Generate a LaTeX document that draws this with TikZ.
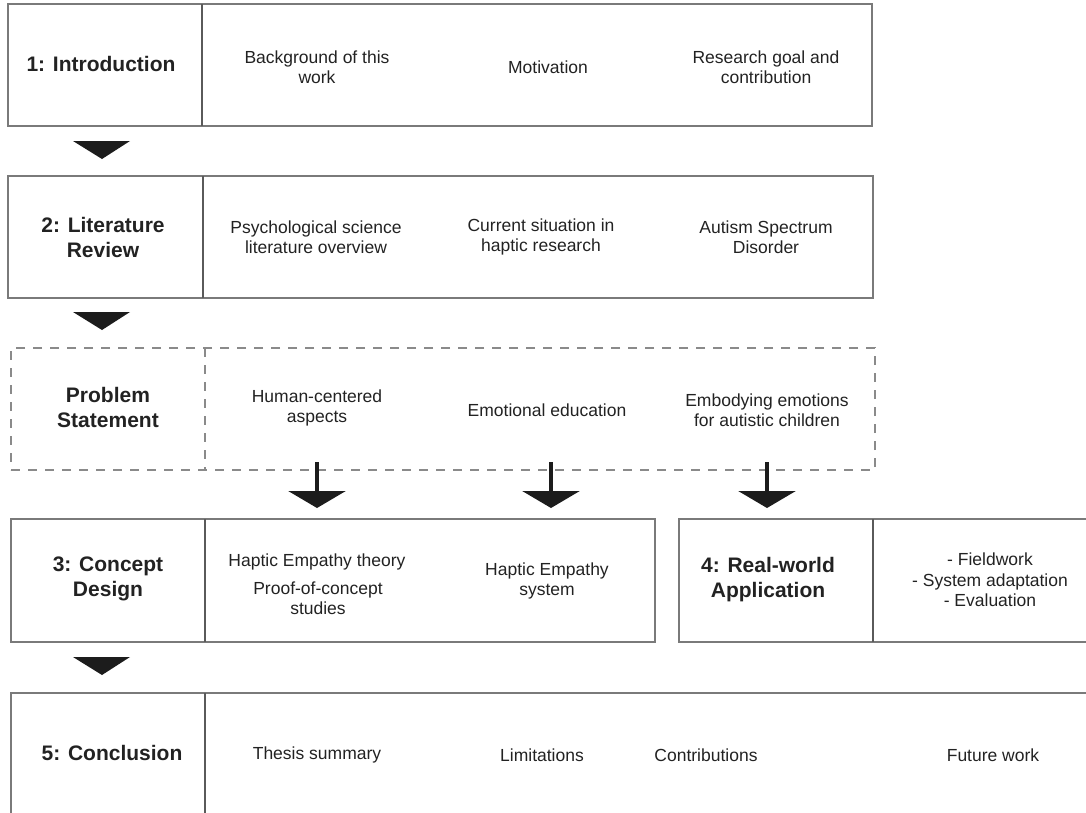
\documentclass[tikz,border=0pt]{standalone}
\usepackage{fontspec}
\setmainfont{Liberation Sans}
\usetikzlibrary{arrows.meta,calc}

\definecolor{framegray}{HTML}{7A7A7A}
\definecolor{divgray}{HTML}{5A5A5A}
\definecolor{dashgray}{HTML}{8A8A8A}
\definecolor{ink}{HTML}{222222}
\definecolor{chevron}{HTML}{1C1C1C}

\tikzset{
  frame/.style={draw=framegray, line width=1.3pt, inner sep=0pt, outer sep=0pt, anchor=north west},
  dashframe/.style={frame, draw=dashgray, dash pattern=on 9pt off 8pt},
  divider/.style={draw=divgray, line width=1.2pt},
  dashdivider/.style={draw=dashgray, line width=1.2pt, dash pattern=on 9pt off 8pt},
  title/.style={text=ink, align=center, font=\fontsize{21}{25}\selectfont\bfseries},
  item/.style={text=ink, align=center, font=\fontsize{17.5}{20.5}\selectfont},
  chev/.style={fill=chevron},
  flow/.style={draw=chevron, line width=3.5pt, -{Triangle[width=57pt,length=17pt]}},
}

\begin{document}
\begin{tikzpicture}[x=1pt,y=-1pt]
\useasboundingbox (0,0) rectangle (1086,812);
\clip (0,0) rectangle (1086,812);

% chapter frames
\node[frame, minimum width=864pt, minimum height=122pt] (b1) at (8,4) {};
\node[frame, minimum width=865pt, minimum height=122pt] (b2) at (8,176) {};
\node[dashframe, minimum width=864pt, minimum height=122pt] (ps) at (11,348) {};
\node[frame, minimum width=644pt, minimum height=123pt] (b3) at (11,519) {};
\node[frame, minimum width=420pt, minimum height=123pt] (b4) at (679,519) {};
\node[frame, minimum width=1090pt, minimum height=140pt] (b5) at (11,693) {};

% column dividers
\draw[divider] ([xshift=194pt]b1.north west) -- ([xshift=194pt]b1.south west);
\draw[divider] ([xshift=195pt]b2.north west) -- ([xshift=195pt]b2.south west);
\draw[dashdivider] ([xshift=194pt]ps.north west) -- ([xshift=194pt]ps.south west);
\draw[divider] ([xshift=194pt]b3.north west) -- ([xshift=194pt]b3.south west);
\draw[divider] ([xshift=194pt]b4.north west) -- ([xshift=194pt]b4.south west);
\draw[divider] ([xshift=194pt]b5.north west) -- ([xshift=194pt]b5.south west);

% row 1
\node[title] (t1) at (101,64) {1: Introduction};
\node[item] (r1a) at (317,67) {Background of this\\work};
\node[item] (r1b) at (548,67) {Motivation};
\node[item] (r1c) at (766,67) {Research goal and\\contribution};

% row 2
\node[title] (t2) at (103,237) {2: Literature\\Review};
\node[item] (r2a) at (316,237) {Psychological science\\literature overview};
\node[item] (r2b) at (541,237) {Current situation in\\haptic research};
\node[item] (r2c) at (766,237) {Autism Spectrum\\Disorder};

% problem statement
\node[title] (tp) at (108,407) {Problem\\Statement};
\node[item] (pa) at (317,408) {Human-centered\\aspects};
\node[item] (pb) at (547,410) {Emotional education};
\node[item] (pc) at (767,410) {Embodying emotions\\for autistic children};

% rows 3 and 4
\node[title] (t3) at (108,579) {3: Concept\\Design};
\node[item] (r3a) at (317,562) {Haptic Empathy theory};
\node[item] (r3b) at (318,598) {Proof-of-concept\\studies};
\node[item] (r3c) at (547,581) {Haptic Empathy\\system};
\node[title] (t4) at (768,580) {4: Real-world\\Application};
\node[item] (r4a) at (990,580) {- Fieldwork\\- System adaptation\\- Evaluation};

% row 5
\node[title] (t5) at (112,753) {5: Conclusion};
\node[item] (r5a) at (317,755) {Thesis summary};
\node[item] (r5b) at (542,755) {Limitations};
\node[item] (r5c) at (706,755) {Contributions};
\node[item] (r5d) at (993,755) {Future work};

% chevrons between rows
\fill[chev] (73,141) -- (130,141) -- (102,159) -- cycle;
\fill[chev] (73,312) -- (130,312) -- (102,330) -- cycle;
\fill[chev] (73,657) -- (130,657) -- (102,675) -- cycle;

% arrows from the problem statement
\draw[flow] ([yshift=8pt]pa |- ps.south) -- ([yshift=11pt]pa |- b3.north);
\draw[flow] ([xshift=4pt,yshift=8pt]pb |- ps.south) -- ([xshift=4pt,yshift=11pt]pb |- b3.north);
\draw[flow] ([yshift=8pt]pc |- ps.south) -- ([yshift=11pt]pc |- b4.north);
\end{tikzpicture}
\end{document}
